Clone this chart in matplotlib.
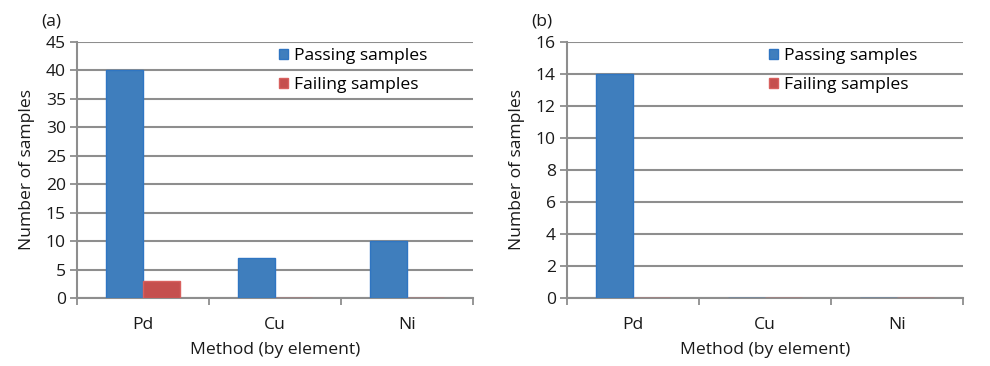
import matplotlib
matplotlib.use("Agg")
import matplotlib.pyplot as plt
from matplotlib.patches import Patch
import numpy as np

plt.rcParams['font.family'] = ['Open Sans', 'DejaVu Sans']

categories = ["Pd", "Cu", "Ni"]
passing_a = [40, 7, 10]
failing_a = [3, 0, 0]
passing_b = [14, 0, 0]
failing_b = [0, 0, 0]
yticks_a = [0, 5, 10, 15, 20, 25, 30, 35, 40, 45]
yticks_b = [0, 2, 4, 6, 8, 10, 12, 14, 16]
series_names = ["Passing samples", "Failing samples"]
panel_labels = ["(a)", "(b)"]

blue = "#3F7EBD"
blue_edge = "#2F75C2"
red = "#C54F4E"
red_edge = "#D8605E"
grid_c = "#8E8E8E"
txt_c = "#1A1A1A"
fs = 12.6

fig = plt.figure(figsize=(9.9, 3.66), dpi=100)
positions = [[77/990, 1-298/366, 396/990, 256/366],
             [567/990, 1-298/366, 396/990, 256/366]]
datasets = [(passing_a, failing_a, yticks_a), (passing_b, failing_b, yticks_b)]

for pos, (pas, fail, yt), plab in zip(positions, datasets, panel_labels):
    ax = fig.add_axes(pos)
    x = np.arange(len(categories))
    w = 0.283
    ax.bar(x - w/2, pas, w, color=blue, edgecolor=blue_edge, linewidth=1.0, zorder=3)
    ax.bar(x + w/2, fail, w, color=red, edgecolor=red_edge, linewidth=1.0, zorder=3)
    ax.set_xlim(-0.5, len(categories) - 0.5)
    ax.set_ylim(yt[0], yt[-1])
    ax.set_yticks(yt)
    ax.set_yticklabels([str(v) for v in yt], fontsize=fs, color=txt_c)
    ax.yaxis.grid(True, color=grid_c, linewidth=1.5, zorder=0)
    ax.set_axisbelow(True)
    ax.set_xticks(np.arange(-0.5, len(categories), 1.0))
    ax.set_xticklabels([])
    ax.set_xticks(x, minor=True)
    ax.set_xticklabels(categories, minor=True, fontsize=fs, color=txt_c)
    ax.tick_params(axis='x', which='minor', length=0, pad=14)
    ax.tick_params(axis='x', which='major', length=5, width=1.3, color=grid_c, direction='out')
    ax.tick_params(axis='y', length=5, width=1.3, color=grid_c, direction='out', pad=3)
    for s in ['top', 'right']:
        ax.spines[s].set_visible(False)
    for s in ['left', 'bottom']:
        ax.spines[s].set_color(grid_c)
        ax.spines[s].set_linewidth(1.5)
    ax.set_xlabel("Method (by element)", fontsize=fs, color=txt_c, labelpad=6)
    ax.set_ylabel("Number of samples", fontsize=fs, color=txt_c, labelpad=8)
    handles = [Patch(facecolor=blue, edgecolor=blue_edge),
               Patch(facecolor=red, edgecolor=red_edge)]
    ax.legend(handles, series_names, loc='upper left', bbox_to_anchor=(0.492, 1.004),
              frameon=False, fontsize=fs, handlelength=0.55, handleheight=0.55,
              handletextpad=0.3, labelspacing=0.75, borderaxespad=0.0)
    ax.text(-0.09, 1.05, plab, transform=ax.transAxes, fontsize=fs, color=txt_c,
            ha='left', va='bottom')

fig.savefig("out.png", dpi=100)
